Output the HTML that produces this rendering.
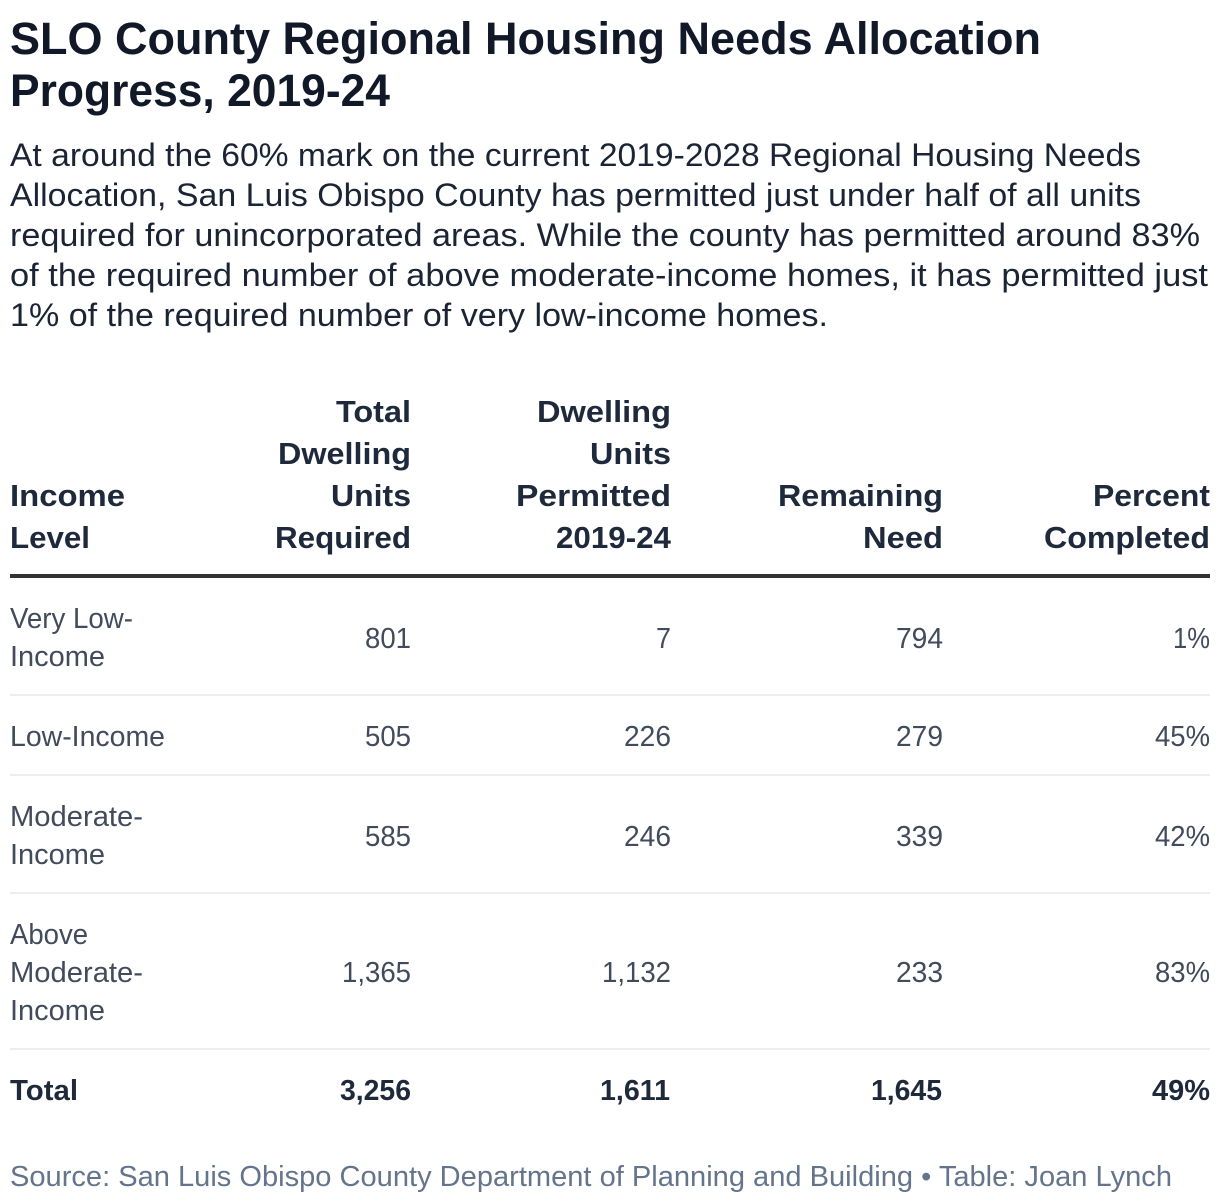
<!DOCTYPE html>
<html lang="en">
<head>
<meta charset="utf-8">
<title>SLO County Regional Housing Needs Allocation Progress, 2019-24</title>
<style>
html,body{margin:0;padding:0;background:#fff;width:1220px;height:1202px;overflow:hidden}
svg{display:block}
text{font-family:"Liberation Sans",sans-serif}
.t{font-size:45px;font-weight:700;fill:#111827}
.s{font-size:32px;fill:#1b2434}
.h{font-size:31px;font-weight:700;fill:#1e293b}
.b{font-size:28.5px;fill:#414b5c}
.f{font-size:29px;font-weight:700;fill:#1e293b}
.c{font-size:28.5px;fill:#64748b}
</style>
</head>
<body>
<svg width="1220" height="1202" viewBox="0 0 1220 1202">
<g>
<text class="t" x="10" y="54" textLength="1031" lengthAdjust="spacingAndGlyphs">SLO County Regional Housing Needs Allocation</text>
<text class="t" x="10" y="106" textLength="380" lengthAdjust="spacingAndGlyphs">Progress, 2019-24</text>
</g>
<g>
<text class="s" x="10" y="166" textLength="1131" lengthAdjust="spacingAndGlyphs">At around the 60% mark on the current 2019-2028 Regional Housing Needs</text>
<text class="s" x="10" y="206" textLength="1131" lengthAdjust="spacingAndGlyphs">Allocation, San Luis Obispo County has permitted just under half of all units</text>
<text class="s" x="10" y="246" textLength="1190" lengthAdjust="spacingAndGlyphs">required for unincorporated areas. While the county has permitted around 83%</text>
<text class="s" x="10" y="286" textLength="1198" lengthAdjust="spacingAndGlyphs">of the required number of above moderate-income homes, it has permitted just</text>
<text class="s" x="10" y="326" textLength="818" lengthAdjust="spacingAndGlyphs">1% of the required number of very low-income homes.</text>
</g>
<g>
<text class="h" x="10" y="506" textLength="115" lengthAdjust="spacingAndGlyphs">Income</text>
<text class="h" x="10" y="548" textLength="80" lengthAdjust="spacingAndGlyphs">Level</text>
</g>
<g>
<text class="h" x="336" y="422" textLength="75" lengthAdjust="spacingAndGlyphs">Total</text>
<text class="h" x="278" y="464" textLength="133" lengthAdjust="spacingAndGlyphs">Dwelling</text>
<text class="h" x="331" y="506" textLength="80" lengthAdjust="spacingAndGlyphs">Units</text>
<text class="h" x="275" y="548" textLength="136" lengthAdjust="spacingAndGlyphs">Required</text>
</g>
<g>
<text class="h" x="537" y="422" textLength="134" lengthAdjust="spacingAndGlyphs">Dwelling</text>
<text class="h" x="590" y="464" textLength="81" lengthAdjust="spacingAndGlyphs">Units</text>
<text class="h" x="516" y="506" textLength="155" lengthAdjust="spacingAndGlyphs">Permitted</text>
<text class="h" x="556" y="548" textLength="115" lengthAdjust="spacingAndGlyphs">2019-24</text>
</g>
<g>
<text class="h" x="778" y="506" textLength="165" lengthAdjust="spacingAndGlyphs">Remaining</text>
<text class="h" x="863" y="548" textLength="80" lengthAdjust="spacingAndGlyphs">Need</text>
</g>
<g>
<text class="h" x="1093" y="506" textLength="117" lengthAdjust="spacingAndGlyphs">Percent</text>
<text class="h" x="1044" y="548" textLength="166" lengthAdjust="spacingAndGlyphs">Completed</text>
</g>
<rect x="10" y="574" width="1200" height="4" fill="#333333"/>
<g>
<text class="b" x="10" y="628" textLength="123" lengthAdjust="spacingAndGlyphs">Very Low-</text>
<text class="b" x="10" y="666" textLength="95" lengthAdjust="spacingAndGlyphs">Income</text>
<text class="b" x="365" y="648" textLength="46" lengthAdjust="spacingAndGlyphs">801</text>
<text class="b" x="656" y="648" textLength="15" lengthAdjust="spacingAndGlyphs">7</text>
<text class="b" x="896" y="648" textLength="47" lengthAdjust="spacingAndGlyphs">794</text>
<text class="b" x="1173" y="648" textLength="37" lengthAdjust="spacingAndGlyphs">1%</text>
</g>
<rect x="10" y="694" width="1200" height="2" fill="#eeeeee"/>
<g>
<text class="b" x="10" y="746" textLength="155" lengthAdjust="spacingAndGlyphs">Low-Income</text>
<text class="b" x="365" y="746" textLength="46" lengthAdjust="spacingAndGlyphs">505</text>
<text class="b" x="624" y="746" textLength="47" lengthAdjust="spacingAndGlyphs">226</text>
<text class="b" x="896" y="746" textLength="47" lengthAdjust="spacingAndGlyphs">279</text>
<text class="b" x="1155" y="746" textLength="55" lengthAdjust="spacingAndGlyphs">45%</text>
</g>
<rect x="10" y="774" width="1200" height="2" fill="#eeeeee"/>
<g>
<text class="b" x="10" y="826" textLength="133" lengthAdjust="spacingAndGlyphs">Moderate-</text>
<text class="b" x="10" y="864" textLength="95" lengthAdjust="spacingAndGlyphs">Income</text>
<text class="b" x="365" y="846" textLength="46" lengthAdjust="spacingAndGlyphs">585</text>
<text class="b" x="624" y="846" textLength="47" lengthAdjust="spacingAndGlyphs">246</text>
<text class="b" x="896" y="846" textLength="47" lengthAdjust="spacingAndGlyphs">339</text>
<text class="b" x="1155" y="846" textLength="55" lengthAdjust="spacingAndGlyphs">42%</text>
</g>
<rect x="10" y="892" width="1200" height="2" fill="#eeeeee"/>
<g>
<text class="b" x="10" y="944" textLength="78" lengthAdjust="spacingAndGlyphs">Above</text>
<text class="b" x="10" y="982" textLength="133" lengthAdjust="spacingAndGlyphs">Moderate-</text>
<text class="b" x="10" y="1020" textLength="95" lengthAdjust="spacingAndGlyphs">Income</text>
<text class="b" x="342" y="982" textLength="69" lengthAdjust="spacingAndGlyphs">1,365</text>
<text class="b" x="602" y="982" textLength="69" lengthAdjust="spacingAndGlyphs">1,132</text>
<text class="b" x="896" y="982" textLength="47" lengthAdjust="spacingAndGlyphs">233</text>
<text class="b" x="1155" y="982" textLength="55" lengthAdjust="spacingAndGlyphs">83%</text>
</g>
<rect x="10" y="1048" width="1200" height="2" fill="#eeeeee"/>
<g>
<text class="f" x="10" y="1100" textLength="68" lengthAdjust="spacingAndGlyphs">Total</text>
<text class="f" x="340" y="1100" textLength="71" lengthAdjust="spacingAndGlyphs">3,256</text>
<text class="f" x="600" y="1100" textLength="70" lengthAdjust="spacingAndGlyphs">1,611</text>
<text class="f" x="871" y="1100" textLength="71" lengthAdjust="spacingAndGlyphs">1,645</text>
<text class="f" x="1152" y="1100" textLength="58" lengthAdjust="spacingAndGlyphs">49%</text>
</g>
<text class="c" x="10" y="1186" textLength="1162" lengthAdjust="spacingAndGlyphs">Source: San Luis Obispo County Department of Planning and Building • Table: Joan Lynch</text>
</svg>
</body>
</html>
